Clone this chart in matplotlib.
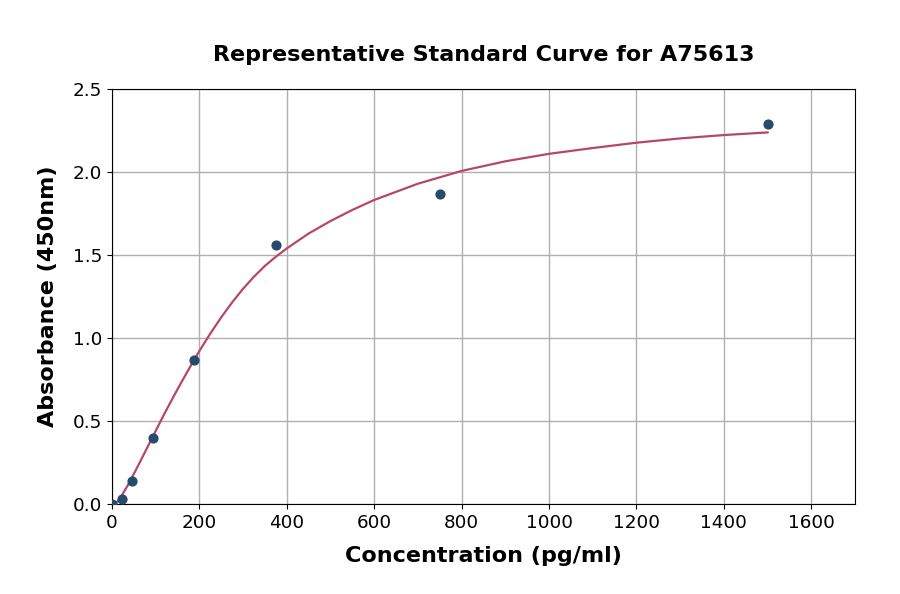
import matplotlib
matplotlib.use('Agg')
import matplotlib.pyplot as plt

# standard points
conc = [0, 23.4, 46.9, 93.75, 187.5, 375, 750, 1500]
absorb = [0.0, 0.03, 0.14, 0.40, 0.87, 1.56, 1.87, 2.29]

# fitted curve (first value falls below the axis)
curve_x = [0, 8, 20, 40, 60, 80, 100, 120, 140, 160, 180, 200, 225, 250,
           275, 300, 325, 350, 375, 400, 450, 500, 550, 600, 700, 800, 900,
           1000, 1100, 1200, 1300, 1400, 1500]
curve_y = [-0.02, 0.0, 0.04, 0.13, 0.232, 0.336, 0.44, 0.544, 0.643, 0.739,
           0.832, 0.922, 1.027, 1.125, 1.215, 1.297, 1.37, 1.435, 1.49, 1.54,
           1.63, 1.705, 1.772, 1.832, 1.93, 2.007, 2.065, 2.11, 2.145, 2.177,
           2.203, 2.223, 2.239]

fig = plt.figure(figsize=(9, 5.94), dpi=100)
ax = fig.add_axes([0.1244, 0.1515, 0.8256, 0.6985])

ax.plot(curve_x, curve_y, color='#b5476d', lw=1.6, zorder=2)
ax.scatter(conc, absorb, color='#264a6c', s=40, zorder=3)

ax.set_xlim(0, 1700)
ax.set_ylim(0, 2.5)
ax.set_xticks(range(0, 1601, 200))
ax.set_yticks([0.0, 0.5, 1.0, 1.5, 2.0, 2.5])
ax.grid(True, color='#b0b0b0', lw=1.0)
ax.set_axisbelow(True)
ax.tick_params(labelsize=13.2)

ax.set_title('Representative Standard Curve for A75613', fontsize=16,
             fontweight='bold', pad=20)
ax.set_xlabel('Concentration (pg/ml)', fontsize=16, fontweight='bold', labelpad=10)
ax.set_ylabel('Absorbance (450nm)', fontsize=16, fontweight='bold', labelpad=11)

plt.savefig('out.png')
